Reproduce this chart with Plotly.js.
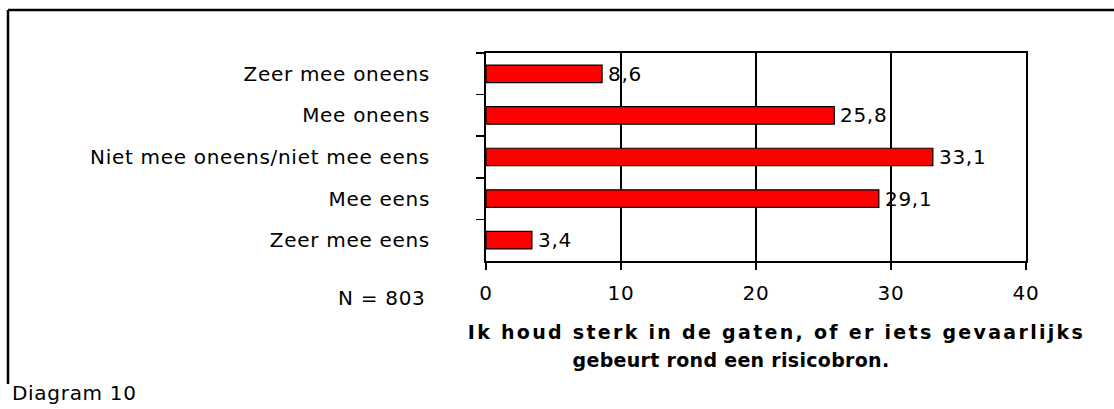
<!DOCTYPE html>
<html>
<head>
<meta charset="utf-8">
<script src="https://cdn.plot.ly/plotly-3.0.1.min.js"></script>
<style>
html,body{margin:0;padding:0;background:#fff;}
#chart{width:1114px;height:409px;}
svg text{letter-spacing:0.7px;}
</style>
</head>
<body>
<div id="chart"></div>
<script>
const categories = ["Zeer mee oneens", "Mee oneens", "Niet mee oneens/niet mee eens", "Mee eens", "Zeer mee eens"];
const values = [8.6, 25.8, 33.1, 29.1, 3.4];
const xTicks = [0, 10, 20, 30, 40];
const axisTitleLines = ["Ik houd sterk in de gaten, of er iets gevaarlijks", "gebeurt rond een risicobron."];
const noteText = "N = 803";
const captionText = "Diagram 10";

const FONT = "DejaVu Sans, Verdana, sans-serif";
// plot area in pixels: x 486..1026, y 53..261
const L = 486, R = 1026, T = 53, B = 261;
const px = v => (v - L) / (R - L);
const py = v => (B - v) / (B - T);

function fmt(v) { return v.toFixed(1).replace('.', ','); }

const trace = {
  type: 'bar',
  orientation: 'h',
  x: values,
  y: categories,
  width: 0.42,
  marker: { color: '#FF0000', line: { color: '#000000', width: 1.2 } },
  hoverinfo: 'none'
};

const annotations = values.map((v, i) => ({
  x: v, y: categories[i], xref: 'x', yref: 'y',
  text: fmt(v), showarrow: false, xanchor: 'left', yanchor: 'middle',
  xshift: 4, font: { family: FONT, size: 20, color: '#000' }
}));

annotations.push({
  x: px(776), y: py(332), xref: 'paper', yref: 'paper',
  text: '<b>' + axisTitleLines[0] + '</b>', showarrow: false,
  xanchor: 'center', yanchor: 'middle',
  font: { family: FONT, size: 19, color: '#000' }
});
annotations.push({
  x: px(731), y: py(360), xref: 'paper', yref: 'paper',
  text: '<b>' + axisTitleLines[1] + '</b>', showarrow: false,
  xanchor: 'center', yanchor: 'middle',
  font: { family: FONT, size: 19, color: '#000' }
});
annotations.push({
  x: px(428), y: py(298), xref: 'paper', yref: 'paper',
  text: noteText, showarrow: false, xanchor: 'right', yanchor: 'middle',
  font: { family: FONT, size: 20, color: '#000' }
});
annotations.push({
  x: px(10), y: py(407), xref: 'paper', yref: 'paper',
  text: captionText, showarrow: false, xanchor: 'left', yanchor: 'bottom',
  font: { family: FONT, size: 20, color: '#000' }
});

const shapes = [
  { type: 'line', xref: 'paper', yref: 'paper', x0: px(8), x1: px(1120), y0: py(10), y1: py(10), line: { color: '#000', width: 2.5 } },
  { type: 'line', xref: 'paper', yref: 'paper', x0: px(8), x1: px(8), y0: py(10), y1: py(384), line: { color: '#000', width: 2.5 } }
];

const layout = {
  width: 1114, height: 409,
  margin: { l: L, r: 1114 - R, t: T, b: 409 - B, pad: 0 },
  paper_bgcolor: '#fff', plot_bgcolor: '#fff',
  showlegend: false,
  font: { family: FONT, size: 20, color: '#000' },
  xaxis: {
    range: [0, 40], tickvals: xTicks, ticktext: xTicks.map(String),
    showgrid: true, gridcolor: '#000', gridwidth: 1.5,
    ticks: 'outside', ticklen: 7, tickwidth: 1.5, tickcolor: '#000',
    showline: true, linecolor: '#000', linewidth: 2, mirror: true,
    zeroline: false, ticklabelstandoff: 6,
    tickfont: { family: FONT, size: 20, color: '#000' }
  },
  yaxis: {
    type: 'category', categoryorder: 'array', categoryarray: categories,
    range: [4.5, -0.5], tickson: 'boundaries',
    ticks: 'outside', ticklen: 8, tickwidth: 1.5, tickcolor: '#000',
    showgrid: false, showline: true, linecolor: '#000', linewidth: 2, mirror: true,
    zeroline: false, ticklabelstandoff: 50,
    tickfont: { family: FONT, size: 20, color: '#000' }
  },
  annotations: annotations,
  shapes: shapes
};

Plotly.newPlot('chart', [trace], layout, { staticPlot: true, displayModeBar: false }).then(gd => {
  // first title line is spread out (justified) in the reference
  gd.querySelectorAll('.annotation-text').forEach(t => {
    if (t.textContent === axisTitleLines[0]) t.style.letterSpacing = '2.3px';
    else if (t.textContent === axisTitleLines[1]) t.style.letterSpacing = '0.3px';
  });
});
</script>
</body>
</html>
